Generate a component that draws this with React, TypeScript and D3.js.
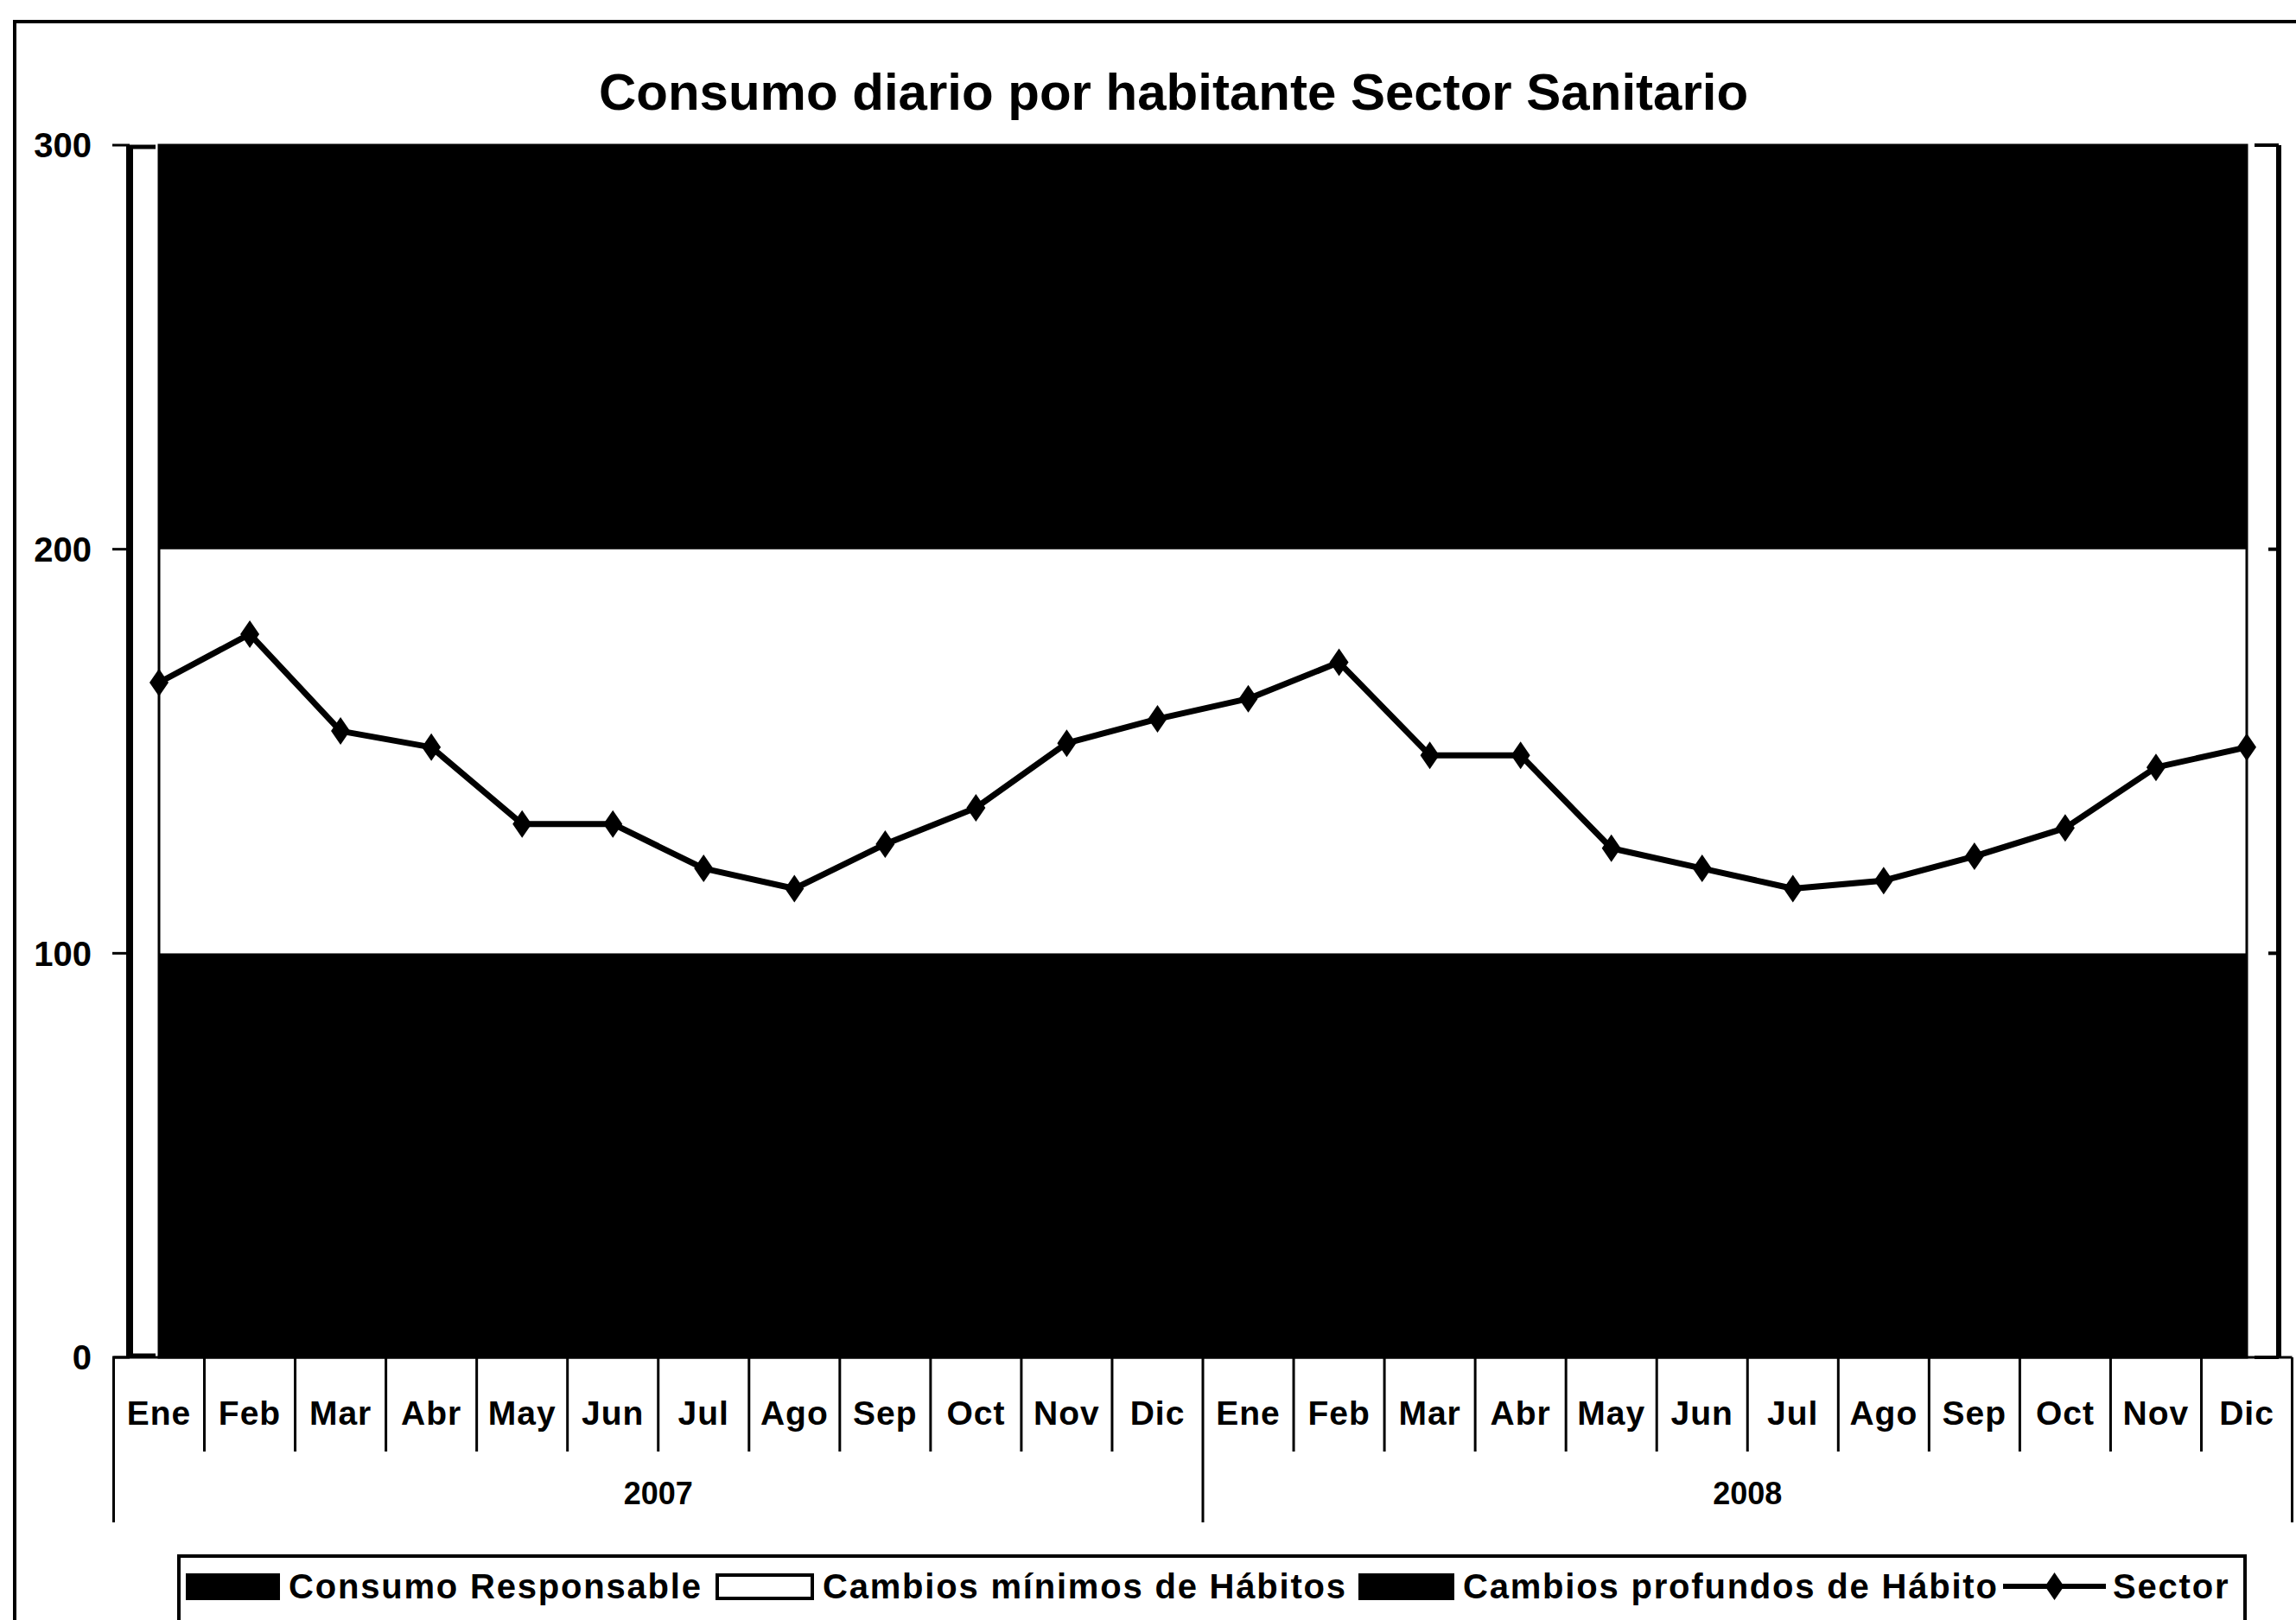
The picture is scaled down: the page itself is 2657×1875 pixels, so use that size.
import React from "react";
import * as d3 from "d3";

const months = ["Ene","Feb","Mar","Abr","May","Jun","Jul","Ago","Sep","Oct","Nov","Dic"];
const years = ["2007","2008"];
const sector2007 = [167,179,155,151,132,132,121,116,127,136,152,158];
const sector2008 = [163,172,149,149,126,121,116,118,124,131,146,151];
const bandKeys = ["responsable","minimos","profundos"];
const bandLabels = ["Consumo Responsable","Cambios mínimos de Hábitos","Cambios profundos de Hábito"];
const bandWidths = [100,100,100];
const bandFills = ["#000","#fff","#000"];
const lineLabel = "Sector";
const yTicks = [0,100,200,300];
const title = "Consumo diario por habitante Sector Sanitario";

const W = 2657, H = 1875;
const FONT = "'Liberation Sans', Arial, sans-serif";

export default function App() {
  const categories = years.flatMap((y) => months.map((m) => ({ y, m })));
  const values = [...sector2007, ...sector2008];
  const idx = categories.map((_, i) => i);

  const x = d3.scalePoint<number>().domain(idx).range([184, 2600]);
  const step = x.step();
  const y = d3.scaleLinear().domain([0, 300]).range([1571, 168]);

  const rows = idx.map((i) => {
    const r: any = { i };
    bandKeys.forEach((k, j) => (r[k] = bandWidths[j]));
    return r;
  });
  const stacked = d3.stack<any>().keys(bandKeys)(rows);
  const area = d3
    .area<any>()
    .x((d) => x(d.data.i)!)
    .y0((d) => y(d[0]))
    .y1((d) => y(d[1]));
  const line = d3
    .line<number>()
    .x((_, i) => x(i)!)
    .y((d) => y(d));

  const diamond = "M0,-16 L11,0 L0,16 L-11,0 Z";
  const x0 = x(0)!;
  const xN = x(idx.length - 1)!;
  const divX = (i: number) => x0 - step / 2 + i * step;

  const yAxisX = 150;
  const bracketX = 2637;

  const legY = 1836;
  const legendItems = [
    { sw: [217, 322], tx: 334, label: bandLabels[0], fill: bandFills[0] },
    { sw: [830, 940], tx: 952, label: bandLabels[1], fill: bandFills[1] },
    { sw: [1574, 1681], tx: 1693, label: bandLabels[2], fill: bandFills[2] },
  ];

  return (
    <svg
      width={W}
      height={H}
      style={{ position: "absolute", left: 0, top: 0, background: "#fff" }}
      fontFamily={FONT}
      fontWeight="bold"
    >
      <rect x={0} y={0} width={W} height={H} fill="#fff" />
      <rect x={17} y={25} width={2700} height={2000} fill="none" stroke="#000" strokeWidth={4} />

      <text x={1358} y={127} textAnchor="middle" fontSize={60} fill="#000">
        {title}
      </text>

      {stacked.map((s, j) => (
        <path key={s.key} d={area(s as any) || ""} fill={bandFills[j]} stroke="none" />
      ))}
      <rect x={x0} y={y(300)} width={xN - x0} height={y(0) - y(300)} fill="none" stroke="#000" strokeWidth={3} />

      <line x1={yAxisX} x2={yAxisX} y1={y(300)} y2={y(0)} stroke="#000" strokeWidth={8} />
      {yTicks.map((t) => (
        <g key={t}>
          <line x1={yAxisX - 20} x2={yAxisX} y1={y(t)} y2={y(t)} stroke="#000" strokeWidth={3} />
          <text x={106} y={y(t)} dy="0.36em" textAnchor="end" fontSize={40} fill="#000">
            {t}
          </text>
        </g>
      ))}
      <line x1={yAxisX} x2={yAxisX + 30} y1={y(300) + 2} y2={y(300) + 2} stroke="#000" strokeWidth={5} />
      <line x1={yAxisX} x2={yAxisX + 30} y1={y(0) - 2} y2={y(0) - 2} stroke="#000" strokeWidth={5} />

      <line x1={bracketX} x2={bracketX} y1={y(300)} y2={y(0)} stroke="#000" strokeWidth={6} />
      {yTicks.map((t) => (
        <line
          key={"r" + t}
          x1={bracketX - (t === 0 || t === 300 ? 28 : 12)}
          x2={bracketX}
          y1={y(t)}
          y2={y(t)}
          stroke="#000"
          strokeWidth={4}
        />
      ))}

      <line x1={divX(0)} x2={divX(idx.length)} y1={y(0)} y2={y(0)} stroke="#000" strokeWidth={3} />
      {d3.range(idx.length + 1).map((i) => {
        const xx = divX(i);
        const yearDiv = i % months.length === 0;
        return (
          <line
            key={"d" + i}
            x1={xx}
            x2={xx}
            y1={y(0)}
            y2={yearDiv ? 1762 : 1680}
            stroke="#000"
            strokeWidth={3}
          />
        );
      })}
      {categories.map((c, i) => (
        <text key={"m" + i} x={x(i)!} y={1649} textAnchor="middle" fontSize={39} letterSpacing={1} fill="#000">
          {c.m}
        </text>
      ))}
      {years.map((yr, k) => {
        const a = divX(k * months.length);
        const b = divX((k + 1) * months.length);
        return (
          <text key={yr} x={(a + b) / 2} y={1741} textAnchor="middle" fontSize={36} fill="#000">
            {yr}
          </text>
        );
      })}

      <path d={line(values) || ""} fill="none" stroke="#000" strokeWidth={7} strokeLinejoin="round" />
      {values.map((v, i) => (
        <path key={"p" + i} d={diamond} transform={`translate(${x(i)},${y(v)})`} fill="#000" />
      ))}

      <rect x={207} y={1801} width={2391} height={90} fill="#fff" stroke="#000" strokeWidth={4} />
      {legendItems.map((it) => (
        <g key={it.label}>
          <rect
            x={it.sw[0]}
            y={1823}
            width={it.sw[1] - it.sw[0]}
            height={27}
            fill={it.fill}
            stroke="#000"
            strokeWidth={4}
          />
          <text x={it.tx} y={legY} dy="0.36em" fontSize={40} letterSpacing={1.8} fill="#000">
            {it.label}
          </text>
        </g>
      ))}
      <line x1={2318} x2={2437} y1={legY} y2={legY} stroke="#000" strokeWidth={6} />
      <path d={diamond} transform={`translate(${(2318 + 2437) / 2},${legY})`} fill="#000" />
      <text x={2445} y={legY} dy="0.36em" fontSize={40} letterSpacing={1.8} fill="#000">
        {lineLabel}
      </text>
    </svg>
  );
}
